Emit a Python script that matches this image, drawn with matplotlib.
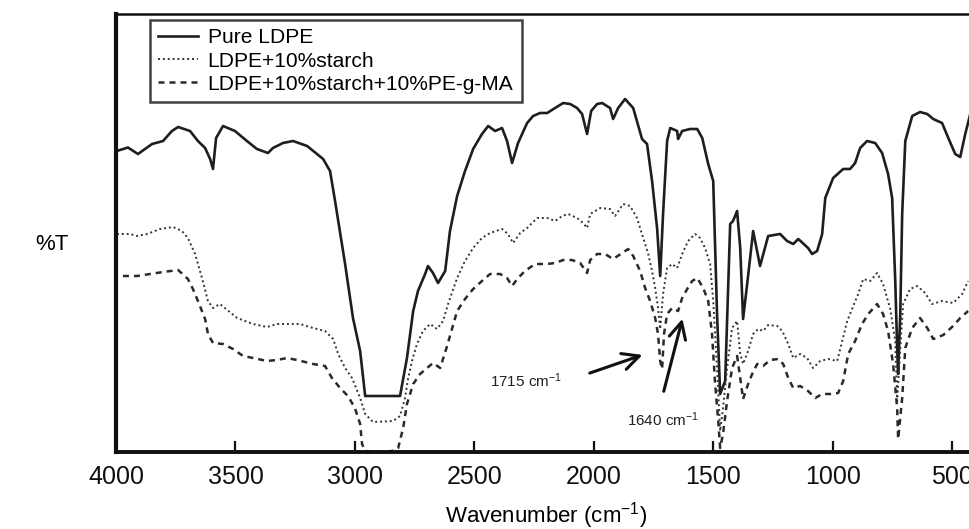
import matplotlib
matplotlib.use("Agg")
import matplotlib.pyplot as plt
import numpy as np

plt.rcParams['font.family'] = ['Liberation Sans', 'DejaVu Sans']
plt.rcParams['mathtext.default'] = 'regular'

# ---- data (wavenumber cm-1, %T arbitrary units) ----
pure_wn = [3997, 3950, 3908, 3849, 3803, 3766, 3740, 3690, 3657, 3627, 3606, 3594, 3581, 3552, 3502,
           3452, 3410, 3364, 3343, 3301, 3259, 3200, 3133, 3104, 3083, 3041, 3008, 2978, 2957, 2811,
           2782, 2756, 2736, 2706, 2694, 2673, 2652, 2622, 2602, 2572, 2539, 2505, 2468, 2442, 2413,
           2384, 2363, 2342, 2317, 2279, 2254, 2225, 2195, 2162, 2128, 2099, 2070, 2049, 2028, 2011,
           1986, 1965, 1932, 1919, 1898, 1869, 1835, 1798, 1777, 1756, 1735, 1722, 1710, 1693, 1680,
           1651, 1647, 1630, 1597, 1567, 1546, 1521, 1500, 1492, 1484, 1471, 1450, 1429, 1417, 1400,
           1387, 1375, 1354, 1333, 1304, 1270, 1220, 1191, 1165, 1144, 1103, 1086, 1065, 1044, 1031,
           998, 956, 927, 906, 885, 856, 822, 793, 768, 751, 738, 730, 726, 717, 709,
           696, 667, 634, 604, 579, 542, 516, 487, 466, 445, 424]
pure_t = [60.2, 60.9, 59.6, 61.6, 62.2, 64.2, 65.0, 64.2, 62.2, 60.8, 58.6, 56.6, 62.8, 65.2, 64.2,
          62.2, 60.6, 59.8, 60.8, 61.8, 62.2, 61.2, 58.6, 56.2, 50.2, 37.6, 26.8, 20.2, 11.2, 11.2,
          18.8, 28.2, 32.2, 35.6, 37.2, 35.8, 33.8, 36.2, 44.2, 51.2, 56.2, 60.6, 63.6, 65.2, 64.2,
          64.8, 62.2, 57.8, 61.8, 65.8, 67.2, 67.8, 67.8, 68.8, 69.8, 69.6, 68.8, 67.6, 63.6, 68.2,
          69.6, 69.8, 68.8, 66.6, 68.8, 70.6, 68.8, 62.6, 61.6, 54.2, 44.8, 35.2, 47.6, 62.2, 64.8,
          64.2, 62.6, 64.2, 64.6, 64.6, 62.8, 57.6, 54.2, 40.8, 27.6, 11.6, 14.2, 45.6, 46.2, 48.2,
          40.8, 26.6, 35.2, 44.2, 37.2, 43.2, 43.6, 42.2, 41.6, 42.6, 40.8, 39.6, 40.2, 43.6, 50.8,
          54.8, 56.6, 56.6, 57.8, 60.8, 62.2, 61.8, 59.8, 55.6, 50.8, 34.2, 20.8, 15.6, 27.6, 47.6,
          62.2, 67.2, 68.0, 67.6, 66.6, 65.8, 62.8, 59.6, 59.0, 63.6, 67.6]

starch_wn = [3996, 3941, 3912, 3870, 3816, 3761, 3724, 3699, 3669, 3640, 3615, 3594, 3565, 3493, 3426,
             3368, 3326, 3271, 3230, 3175, 3125, 3091, 3070, 3041, 3012, 2978, 2957, 2924, 2840, 2811,
             2790, 2777, 2761, 2740, 2715, 2685, 2656, 2631, 2610, 2572, 2539, 2505, 2468, 2434, 2384,
             2359, 2338, 2308, 2279, 2237, 2195, 2162, 2132, 2107, 2070, 2045, 2028, 2015, 1973, 1932,
             1911, 1877, 1848, 1819, 1793, 1772, 1756, 1743, 1731, 1722, 1710, 1693, 1672, 1651, 1630,
             1605, 1576, 1555, 1534, 1513, 1500, 1484, 1471, 1459, 1442, 1421, 1400, 1387, 1375, 1354,
             1333, 1312, 1291, 1270, 1232, 1211, 1186, 1165, 1136, 1107, 1082, 1052, 1019, 981, 960,
             939, 914, 893, 872, 843, 814, 789, 759, 738, 730, 717, 705, 676, 646, 613,
             584, 542, 496, 458, 433]
starch_t = [43.6, 43.6, 43.2, 43.6, 44.6, 45.0, 44.2, 42.8, 39.6, 34.8, 30.2, 28.8, 29.6, 26.8, 25.6,
            25.0, 25.6, 25.6, 25.6, 24.8, 24.2, 22.6, 19.6, 16.8, 14.8, 10.8, 7.6, 6.0, 6.2, 7.2,
            10.8, 14.8, 18.2, 21.6, 24.2, 25.6, 24.6, 26.2, 29.6, 34.8, 38.2, 40.8, 42.8, 43.8, 44.6,
            43.6, 41.8, 43.8, 44.8, 46.8, 46.8, 46.2, 47.2, 47.6, 46.8, 45.8, 44.8, 47.6, 48.8, 48.6,
            47.2, 49.6, 49.2, 46.8, 42.8, 39.6, 36.2, 32.8, 28.8, 24.6, 31.6, 36.8, 37.6, 36.8, 39.6,
            42.2, 43.6, 42.8, 40.8, 37.6, 30.2, 16.8, 4.2, 8.8, 16.8, 24.8, 26.2, 19.6, 17.6, 20.2,
            23.6, 24.6, 24.2, 25.4, 25.2, 24.2, 21.6, 18.8, 19.6, 18.8, 16.8, 18.2, 18.6, 18.2, 22.2,
            26.2, 29.2, 31.6, 34.6, 34.2, 35.8, 33.6, 28.6, 22.2, 10.2, 20.8, 29.6, 32.6, 33.2, 31.8,
            29.6, 30.2, 29.8, 31.6, 34.2]

ma_wn = [3971, 3912, 3858, 3803, 3740, 3699, 3678, 3657, 3627, 3615, 3594, 3552, 3510, 3468, 3426,
         3368, 3326, 3284, 3242, 3175, 3125, 3096, 3062, 3029, 3000, 2978, 2970, 2957, 2895, 2844,
         2819, 2798, 2782, 2756, 2727, 2698, 2673, 2643, 2614, 2572, 2539, 2505, 2468, 2434, 2392,
         2363, 2342, 2317, 2288, 2246, 2195, 2162, 2128, 2091, 2057, 2028, 2015, 1986, 1953, 1919,
         1881, 1856, 1835, 1806, 1785, 1764, 1743, 1731, 1722, 1714, 1706, 1693, 1672, 1647, 1630,
         1609, 1588, 1567, 1542, 1521, 1505, 1492, 1479, 1471, 1459, 1442, 1421, 1400, 1387, 1375,
         1354, 1337, 1316, 1291, 1262, 1228, 1207, 1186, 1165, 1136, 1103, 1073, 1044, 1010, 977,
         956, 935, 906, 877, 851, 814, 789, 768, 747, 730, 726, 709, 696, 667, 634,
         604, 579, 537, 496, 466, 433]
ma_t = [35.2, 35.2, 35.6, 36.0, 36.4, 34.6, 32.6, 30.2, 26.6, 23.6, 21.8, 21.6, 20.6, 19.2, 18.8,
        18.2, 18.4, 18.8, 18.4, 17.6, 17.2, 14.8, 12.8, 11.2, 8.8, 5.6, 1.6, 0.2, 0.0, 0.2,
        0.8, 4.8, 9.6, 13.6, 15.6, 16.8, 17.8, 16.8, 21.2, 28.2, 30.6, 32.6, 34.2, 35.6, 35.6,
        34.8, 33.2, 34.8, 36.2, 37.6, 37.6, 37.8, 38.4, 38.4, 37.8, 35.8, 38.4, 39.6, 39.6, 38.6,
        39.8, 40.6, 39.2, 36.2, 32.8, 30.2, 26.8, 23.6, 18.2, 16.6, 23.6, 27.6, 28.8, 28.2, 30.8,
        32.6, 34.2, 34.8, 32.8, 30.2, 23.6, 13.6, 6.2, 0.8, 3.6, 10.2, 16.8, 19.2, 14.8, 10.6,
        13.6, 15.6, 17.6, 17.2, 18.4, 18.6, 17.6, 14.8, 12.8, 13.2, 12.2, 10.8, 11.6, 11.6, 11.8,
        14.2, 19.6, 22.2, 25.6, 27.6, 29.6, 27.6, 24.2, 17.6, 8.8, 2.6, 10.8, 20.8, 24.8, 26.8,
        24.8, 22.6, 23.4, 25.2, 26.8, 28.2]

labels = ["Pure LDPE", "LDPE+10%starch", "LDPE+10%starch+10%PE-g-MA"]
xticks = [4000, 3500, 3000, 2500, 2000, 1500, 1000, 500]

# ---- figure ----
W, H = 970, 529
fig = plt.figure(figsize=(W / 100, H / 100), dpi=100)
left, right, top, bottom = 116, 976, 14, 452
ax = fig.add_axes([left / W, 1 - bottom / H, (right - left) / W, (bottom - top) / H])

l1, = ax.plot(pure_wn, pure_t, color='#1e1e1e', lw=1.9, ls='-', label=labels[0])
l2, = ax.plot(starch_wn, starch_t, color='#333333', lw=1.4, ls=(0, (1, 1.5)), label=labels[1])
l3, = ax.plot(ma_wn, ma_t, color='#2a2a2a', lw=1.8, ls=(0, (2.4, 2.0)), label=labels[2])

ax.set_xlim(4000, 400)
ax.set_ylim(0, 87.6)
ax.set_xticks(xticks)
ax.set_xticklabels([str(t) for t in xticks], fontsize=18)
ax.set_yticks([])
ax.tick_params(axis='x', direction='in', length=8, width=1.6, pad=9, colors='#111111')
ax.spines['right'].set_visible(False)
ax.spines['left'].set_linewidth(3.0)
ax.spines['bottom'].set_linewidth(2.8)
ax.spines['top'].set_linewidth(1.8)
for s in ax.spines.values():
    s.set_color('#111111')

ax.set_xlabel('Wavenumber (cm$^{-1}$)', fontsize=16, labelpad=8)
fig.text(52 / W, 1 - 245 / H, '%T', fontsize=16, ha='center', va='center')

leg = ax.legend(handles=[l1, l2, l3], loc='upper left',
                bbox_to_anchor=(150 / W, 1 - 20 / H), bbox_transform=fig.transFigure,
                fontsize=15.1, frameon=True, fancybox=False, edgecolor='#111111',
                handlelength=1.9, handletextpad=0.45, labelspacing=0.2, borderpad=0.4,
                borderaxespad=0)
leg.get_frame().set_linewidth(1.8)

ax.annotate('', xy=(1785, 19.6), xytext=(2028, 15.6),
            arrowprops=dict(arrowstyle='->', lw=2.2, color='#111111', mutation_scale=30))
ax.text(2283, 14.2, '1715 cm$^{-1}$', fontsize=11, ha='center', va='center', color='#222222')
ax.annotate('', xy=(1626, 27.2), xytext=(1710, 11.6),
            arrowprops=dict(arrowstyle='->', lw=2.2, color='#111111', mutation_scale=30))
ax.text(1710, 6.4, '1640 cm$^{-1}$', fontsize=11, ha='center', va='center', color='#222222')

fig.savefig('out.png', dpi=100)
